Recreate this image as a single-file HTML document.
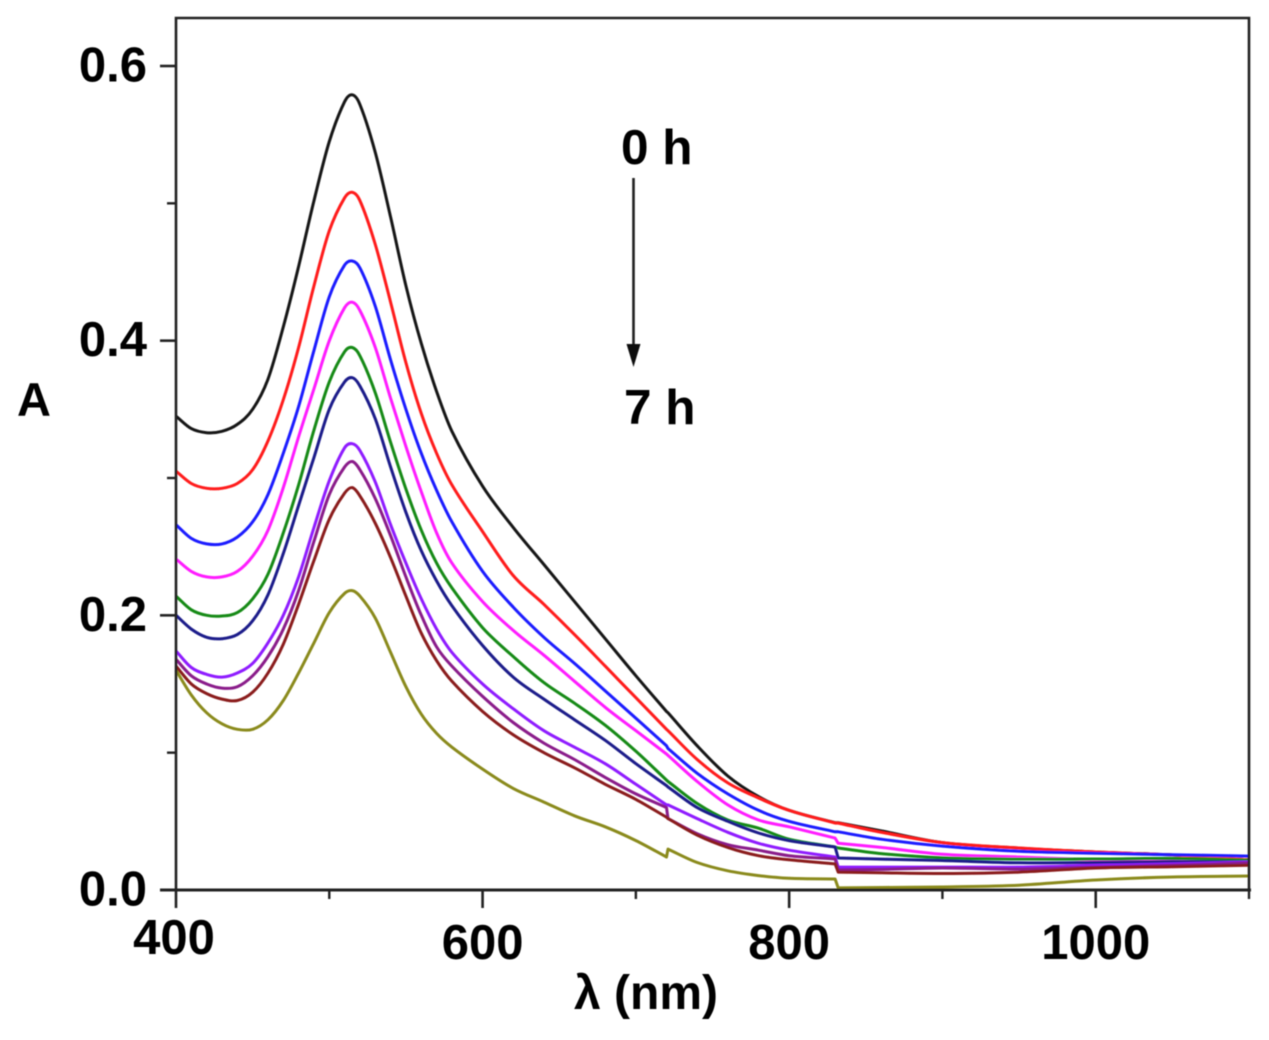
<!DOCTYPE html>
<html lang="en">
<head>
<meta charset="utf-8">
<title>Absorbance spectra 0 h to 7 h</title>
<style>
html,body{margin:0;padding:0;background:#fff;width:1269px;height:1040px;overflow:hidden}
svg{display:block}
text{font-family:"Liberation Sans",sans-serif;font-weight:bold;fill:#000}
</style>
</head>
<body>
<svg id="chart" xmlns="http://www.w3.org/2000/svg" width="1269" height="1040" viewBox="0 0 1269 1040">
<defs><filter id="soft" x="-2%" y="-2%" width="104%" height="104%"><feGaussianBlur stdDeviation="0.6"/></filter></defs>
<g id="root" filter="url(#soft)">
<g id="series"></g>
<g id="axes"></g>
<text x="17" y="416" font-size="47">A</text>
<text x="574" y="1009" font-size="48">λ (nm)</text>
<text x="621" y="164" font-size="49.5">0 h</text>
<text x="624" y="424" font-size="49.5">7 h</text>
<line x1="633.5" y1="178" x2="633.5" y2="350" stroke="#222" stroke-width="2.6"/>
<polygon points="626.5,344 640.5,344 633.5,367" fill="#111"/>
</g>
</svg>
<script>
const wavelengths = [400,410,420,430,440,450,460,470,480,490,500,510,515,520,530,540,550,560,570,580,600,620,640,660,680,700,720,721,740,760,780,800,830,832,860,900,950,1000,1050,1100];
const s0h = [.345,.336,.333,.334,.339,.35,.372,.41,.454,.502,.545,.574,.579,.572,.537,.49,.44,.398,.363,.334,.294,.264,.237,.21,.183,.156,.13,.129,.105,.083,.068,.058,.049,.049,.043,.0345,.0305,.0277,.0255,.022];
const s1 = [.305,.296,.2925,.2925,.296,.306,.327,.357,.395,.44,.48,.504,.508,.502,.47,.428,.384,.347,.318,.295,.261,.229,.208,.186,.163,.14,.117,.116,.095,.078,.067,.058,.0487,.0487,.042,.0345,.0306,.0277,.0255,.022];
const s2 = [.266,.256,.252,.252,.257,.268,.288,.318,.352,.393,.432,.455,.458,.453,.425,.386,.35,.318,.291,.268,.232,.206,.184,.165,.145,.125,.105,.103,.085,.07,.058,.05,.0424,.0424,.037,.032,.0282,.0268,.0257,.0247];
const s3 = [.241,.232,.228,.228,.232,.243,.262,.293,.33,.365,.4,.424,.428,.422,.395,.358,.323,.29,.26,.238,.21,.189,.171,.152,.133,.116,.099,.098,.079,.062,.051,.046,.0378,.034,.031,.026,.024,.022,.0212,.0204];
const s4 = [.214,.204,.2,.1995,.202,.212,.23,.26,.295,.335,.37,.392,.395,.389,.362,.326,.292,.262,.238,.22,.191,.17,.151,.136,.12,.101,.08,.079,.063,.051,.045,.037,.0313,.0306,.0265,.0235,.0226,.0226,.023,.0218];
const s5 = [.2,.19,.184,.183,.186,.196,.215,.245,.28,.315,.35,.37,.373,.367,.343,.308,.275,.247,.225,.207,.178,.155,.139,.124,.109,.092,.076,.075,.06,.05,.0415,.036,.0313,.0233,.0225,.0215,.0198,.02,.0205,.0205];
const s6 = [.174,.162,.157,.155,.158,.165,.18,.2,.228,.264,.298,.322,.325,.32,.297,.266,.238,.212,.19,.173,.15,.132,.116,.104,.092,.077,.062,.062,.052,.042,.034,.029,.024,.0167,.0167,.0167,.0167,.018,.019,.0204];
const s7 = [.168,.156,.15,.147,.148,.156,.17,.19,.218,.254,.288,.308,.312,.306,.285,.258,.228,.2,.177,.163,.141,.122,.107,.095,.082,.07,.06,.052,.041,.033,.029,.025,.0226,.0146,.015,.016,.0153,.0167,.018,.0197];
const s8 = [.163,.15,.143,.139,.138,.144,.158,.179,.208,.24,.27,.289,.293,.287,.267,.242,.214,.187,.167,.152,.13,.113,.1,.089,.077,.066,.053,.052,.04,.031,.025,.022,.019,.013,.0125,.012,.013,.016,.017,.018];
const s7h = [.16,.142,.129,.121,.117,.117,.124,.138,.158,.18,.202,.216,.218,.214,.198,.173,.148,.128,.114,.104,.088,.074,.064,.054,.046,.036,.024,.0298,.02,.014,.0105,.0085,.008,.0015,.0018,.0022,.0035,.0073,.0095,.0102];
const seriesValues = [s0h,s1,s2,s3,s4,s5,s6,s7,s8,s7h];
const seriesNames = ['black','red','blue','magenta','green','navy','violet','purple','maroon','olive'];
const seriesColors = ['#161616','#ff1c1c','#1c1cff','#ff1cff','#148a14','#1c1c8a','#8f1cff','#8a1c8a','#8a1c1c','#8a8a1c'];
const xTickValues = [400,600,800,1000];
const xTickLabels = ['400','600','800','1000'];
const xMinorValues = [500,700,900,1100];
const yTickValues = [0,0.2,0.4,0.6];
const yTickLabels = ['0.0','0.2','0.4','0.6'];
const yMinorValues = [0.1,0.3,0.5];

const NS = 'http://www.w3.org/2000/svg';
function xScale(v){ return 176 + (v - 400) * (1249 - 176) / 700; }
function yScale(v){ return 890 - v * (890 - 66) / 0.6; }
function make(tag, attrs, parent){
  const el = document.createElementNS(NS, tag);
  for (const k in attrs) el.setAttribute(k, attrs[k]);
  parent.appendChild(el);
  return el;
}
/* Smooth path through the data; steps (detector changes, gap <= 2 nm) stay sharp. */
function smoothPath(vals){
  const pts = vals.map(function(v, j){ return [xScale(wavelengths[j]), yScale(v)]; });
  let d = 'M' + pts[0][0].toFixed(1) + ' ' + pts[0][1].toFixed(1);
  const isStep = function(a){ return a >= 0 && a < pts.length - 1 && wavelengths[a + 1] - wavelengths[a] <= 2; };
  for (let i = 0; i < pts.length - 1; i++){
    const p1 = pts[i], p2 = pts[i + 1];
    if (isStep(i)) { d += ' L' + p2[0].toFixed(1) + ' ' + p2[1].toFixed(1); continue; }
    const p0 = (i > 0 && !isStep(i - 1)) ? pts[i - 1] : p1;
    const p3 = (i < pts.length - 2 && !isStep(i + 1)) ? pts[i + 2] : p2;
    const h = p2[0] - p1[0];
    const m1 = (p2[1] - p0[1]) / ((p2[0] - p0[0]) || 1);
    const m2 = (p3[1] - p1[1]) / ((p3[0] - p1[0]) || 1);
    d += ' C' + (p1[0] + h / 3).toFixed(1) + ' ' + (p1[1] + m1 * h / 3).toFixed(1) + ' ' +
         (p2[0] - h / 3).toFixed(1) + ' ' + (p2[1] - m2 * h / 3).toFixed(1) + ' ' +
         p2[0].toFixed(1) + ' ' + p2[1].toFixed(1);
  }
  return d;
}
const seriesGroup = document.getElementById('series');
const axesGroup = document.getElementById('axes');

seriesValues.forEach(function(vals, i){
  const p = make('path', {d: smoothPath(vals), fill: 'none', stroke: seriesColors[i], 'stroke-width': 3, 'stroke-linejoin': 'round'}, seriesGroup);
  
  
});

const frame = make('path', {d: 'M176 890 L176 18 L1249 18 L1249 890', fill: 'none', stroke: '#222', 'stroke-width': 2.6}, axesGroup);


const xAxisLine = make('line', {x1: 160, x2: 1251, y1: 890, y2: 890, stroke: '#222', 'stroke-width': 3}, axesGroup);



xTickValues.forEach(function(v, i){
  const t = make('line', {x1: xScale(v), x2: xScale(v), y1: 890, y2: 908, stroke: '#222', 'stroke-width': 2.6}, axesGroup);
  
  
  const lab = make('text', {x: xScale(v) - (i === 0 ? 2 : 0), y: i === 0 ? 954 : 959, 'font-size': 49, 'text-anchor': 'middle'}, axesGroup);
  lab.textContent = xTickLabels[i];
  
  
});
xMinorValues.forEach(function(v){
  const t = make('line', {x1: xScale(v), x2: xScale(v), y1: 890, y2: 899, stroke: '#222', 'stroke-width': 2.4}, axesGroup);
  
  
});
yTickValues.forEach(function(v, i){
  const t = make('line', {x1: 160, x2: 176, y1: yScale(v), y2: yScale(v), stroke: '#222', 'stroke-width': 2.6}, axesGroup);
  
  
  const lab = make('text', {x: 147, y: yScale(v) + 15.5, 'font-size': 49, 'text-anchor': 'end'}, axesGroup);
  lab.textContent = yTickLabels[i];
  
  
});
yMinorValues.forEach(function(v){
  const t = make('line', {x1: 167, x2: 176, y1: yScale(v), y2: yScale(v), stroke: '#222', 'stroke-width': 2.4}, axesGroup);
  
  
});
</script>
</body>
</html>
